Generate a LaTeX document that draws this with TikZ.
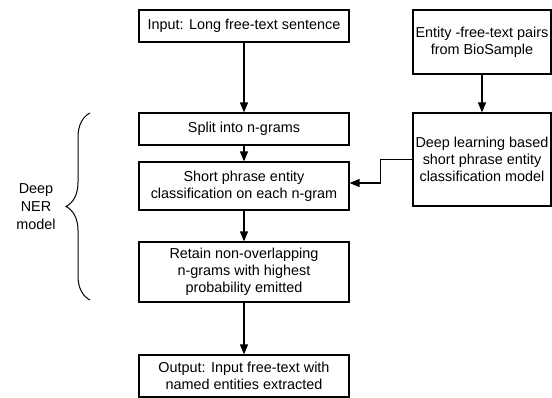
\documentclass[tikz,border=0pt]{standalone}
\usepackage{fontspec}
\setmainfont{Liberation Sans}
\usetikzlibrary{positioning,arrows.meta,decorations.pathreplacing}

\begin{document}
\begin{tikzpicture}[x=1pt,y=-1pt,
    blk/.style={draw, line width=1.2pt, inner sep=0pt, align=center,
                font=\fontsize{14.4}{17}\selectfont},
    flow/.style={-{Triangle[length=10pt,width=8pt]}, line width=1.3pt}
  ]
  \useasboundingbox (0,0) rectangle (552,398);
  % main column
  \node[blk, minimum width=210pt, minimum height=32pt] (inp) at (244,26) {Input: Long free-text sentence};
  \node[blk, minimum width=210pt, minimum height=32pt] (split) at (244,129) {Split into n-grams};
  \node[blk, minimum width=210pt, minimum height=48pt] (cls) at (244,186) {Short phrase entity\\classification on each n-gram};
  \node[blk, minimum width=210pt, minimum height=60pt] (ret) at (244,272) {Retain non-overlapping\\n-grams with highest\\probability emitted};
  \node[blk, minimum width=210pt, minimum height=42pt] (out) at (244,376) {Output: Input free-text with\\named entities extracted};
  % side column
  \node[blk, minimum width=138pt, minimum height=64pt] (ent) at (482,42) {Entity -free-text pairs\\from BioSample};
  \node[blk, minimum width=138pt, minimum height=93pt] (deep) at (482,159.5) {Deep learning based\\short phrase entity\\classification model};

  \draw[flow] (inp) -- (split);
  \draw[flow] (split) -- (cls);
  \draw[flow] (cls) -- (ret);
  \draw[flow] (ret) -- (out);
  \draw[flow] (ent) -- (deep);
  \draw[flow] (deep.west) -- ++(-32,0) |- ([yshift=3pt]cls.east);

  % brace and label
  \coordinate (bt) at (90,113);
  \coordinate (bb) at (90,300);
  \draw[line width=1pt, decorate, decoration={brace, amplitude=24pt}] (bb) -- (bt);
  \node[align=center, font=\fontsize{14.4}{18}\selectfont] (ner) at (36,207) {Deep\\NER\\model};
\end{tikzpicture}
\end{document}
